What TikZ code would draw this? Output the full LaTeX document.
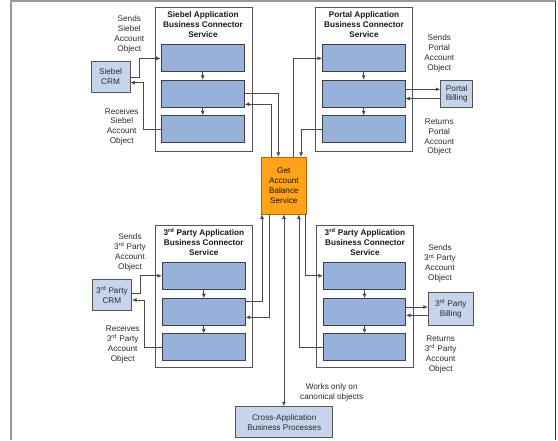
\documentclass[tikz,border=0pt]{standalone}
\usepackage{fontspec}
\setmainfont{Liberation Sans}
\usetikzlibrary{arrows.meta}
\definecolor{innerfill}{HTML}{97B1DA}
\definecolor{innerdraw}{HTML}{3F3F3F}
\definecolor{extfill}{HTML}{C7D5EC}
\definecolor{extdraw}{HTML}{555555}
\definecolor{contdraw}{HTML}{555555}
\definecolor{gabfill}{HTML}{FFA31A}
\definecolor{gabdraw}{HTML}{B06A00}
\definecolor{conncol}{HTML}{4A4A4A}
\definecolor{txtcol}{HTML}{2A2A2A}
\tikzset{
  container/.style={draw=contdraw, fill=white, line width=0.9pt, inner sep=0},
  innerbox/.style={draw=innerdraw, fill=innerfill, line width=0.7pt, minimum height=27pt, inner sep=0},
  extbox/.style={draw=extdraw, fill=extfill, line width=0.8pt, inner sep=0, align=center,
     font=\fontsize{8.2}{9.9}\selectfont, text=txtcol},
  gabbox/.style={draw=gabdraw, fill=gabfill, line width=0.8pt, inner sep=0, align=center,
     font=\fontsize{8.2}{9.9}\selectfont, text=black!85!brown},
  lbl/.style={inner sep=0, align=center, font=\fontsize{8.2}{9.9}\selectfont, text=txtcol},
  ttl/.style={inner sep=0, align=center, font=\fontsize{8.2}{9.9}\selectfont\bfseries, text=black!90},
  conn/.style={draw=conncol, line width=0.7pt, -{Latex[length=4.5pt,width=4pt]}},
  conn2/.style={draw=conncol, line width=0.7pt, {Latex[length=4.5pt,width=4pt]}-{Latex[length=4.5pt,width=4pt]}},
  framel/.style={draw=black!40, line width=2pt},
  framet/.style={draw=black!40, line width=1.3pt},
  framer/.style={draw=black!80, line width=1pt}
}
\newcommand{\rdsup}{3\textsuperscript{rd}}
\begin{document}
\begin{tikzpicture}[x=1pt,y=-1pt]
\useasboundingbox (0,0) rectangle (558,440);
% frame
\draw[framel] (10.5,440) -- (10.5,1);
\draw[framet] (10,1) -- (555.5,1);
\draw[framer] (555,0.5) -- (555,440);

% containers
\node[container, minimum width=97pt, minimum height=144pt] (sc) at (203.5,79) {};
\node[container, minimum width=96.6pt, minimum height=144pt] (pc) at (364,79) {};
\node[container, minimum width=97.7pt, minimum height=141.6pt] (tc) at (203.8,296.5) {};
\node[container, minimum width=96.6pt, minimum height=141.6pt] (rc) at (365,296.5) {};

% titles
\node[ttl] (st) at (203,24.8) {Siebel Application\\Business Connector\\Service};
\node[ttl] (pt) at (364,24.8) {Portal Application\\Business Connector\\Service};
\node[ttl] (tt) at (203.8,242.2) {\rdsup{} Party Application\\Business Connector\\Service};
\node[ttl] (rt) at (365,242.2) {\rdsup{} Party Application\\Business Connector\\Service};

% inner boxes
\node[innerbox, minimum width=83.5pt] (s1) at (202.75,58.3) {};
\node[innerbox, minimum width=83.5pt] (s2) at (202.75,93.6) {};
\node[innerbox, minimum width=83.5pt] (s3) at (202.75,129.2) {};
\node[innerbox, minimum width=82.7pt] (p1) at (363.7,58.3) {};
\node[innerbox, minimum width=82.7pt] (p2) at (363.7,93.6) {};
\node[innerbox, minimum width=82.7pt] (p3) at (363.7,129.2) {};
\node[innerbox, minimum width=83pt, minimum height=26.5pt] (t1) at (203.8,275.8) {};
\node[innerbox, minimum width=83pt, minimum height=26.5pt] (t2) at (203.8,311.8) {};
\node[innerbox, minimum width=83pt, minimum height=26.5pt] (t3) at (203.8,347) {};
\node[innerbox, minimum width=82.4pt, minimum height=26.5pt] (r1) at (364.5,275.8) {};
\node[innerbox, minimum width=82.4pt, minimum height=26.5pt] (r2) at (364.5,311.8) {};
\node[innerbox, minimum width=82.4pt, minimum height=26.5pt] (r3) at (364.5,347) {};

% external boxes
\node[extbox, minimum width=39pt, minimum height=31.7pt] (crm1) at (110.5,76.85) {Siebel\\CRM};
\node[extbox, minimum width=32pt, minimum height=27.7pt] (pb) at (456.7,93.85) {Portal\\Billing};
\node[extbox, minimum width=39.7pt, minimum height=30.6pt] (crm2) at (111.85,295) {\rdsup{} Party\\CRM};
\node[extbox, minimum width=45pt, minimum height=32.3pt] (tb) at (450.8,308.85) {\rdsup{} Party\\Billing};
\node[gabbox, minimum width=45.7pt, minimum height=56.7pt] (gab) at (283.85,185.65) {Get\\Account\\Balance\\Service};
\node[extbox, minimum width=97pt, minimum height=31pt] (ca) at (284.2,422.2) {Cross-Application\\Business Processes};

% labels
\node[lbl] (l1) at (129.3,34.6) {Sends\\Siebel\\Account\\Object};
\node[lbl] (l2) at (121.7,126.8) {Receives\\Siebel\\Account\\Object};
\node[lbl] (l3) at (439.3,53.7) {Sends\\Portal\\Account\\Object};
\node[lbl] (l4) at (439.3,137.1) {Returns\\Portal\\Account\\Object};
\node[lbl] (l5) at (130,252.4) {Sends\\\rdsup{} Party\\Account\\Object};
\node[lbl] (l6) at (122.7,344.5) {Receives\\\rdsup{} Party\\Account\\Object};
\node[lbl] (l7) at (440,263.7) {Sends\\\rdsup{} Party\\Account\\Object};
\node[lbl] (l8) at (440.7,354.4) {Returns\\\rdsup{} Party\\Account\\Object};
\node[lbl] (l9) at (331.7,392.7) {Works only on\\canonical objects};

% arrows inside containers
\draw[conn] (s1) -- (s2);
\draw[conn] (s2) -- (s3);
\draw[conn] (p1) -- (p2);
\draw[conn] (p2) -- (p3);
\draw[conn] (t1) -- (t2);
\draw[conn] (t2) -- (t3);
\draw[conn] (r1) -- (r2);
\draw[conn] (r2) -- (r3);

% Siebel side
\draw[conn] (crm1.east) -- ++(9,0) |- (s1.west);
\draw[conn] (s3.west) -- ++(-17.7,0) |- ([yshift=-5.8pt]crm1.east);
\draw[conn] (s2.east) -| ([xshift=-5.5pt]gab.north);
\draw[conn] ([xshift=-12.2pt]gab.north) |- ([yshift=-10.7pt]s2.east);

% Portal side
\draw[conn] ([xshift=9.5pt]gab.north) |- (p1.west);
\draw[conn] (p3.west) -| ([xshift=17.2pt]gab.north);
\draw[conn] ([yshift=4.3pt]p2.east) -- ([yshift=4.3pt]p2.east -| pb.west);
\draw[conn] ([yshift=-5pt]p2.east -| pb.west) -- ([yshift=-5pt]p2.east);

% 3rd party left
\draw[conn] ([yshift=1.5pt]crm2.east) -- ++(8.3,0) |- (t1.west);
\draw[conn] (t3.west) -- ++(-17.3,0) |- ([yshift=-5pt]crm2.east);
\draw[conn] ([yshift=10pt]t2.east) -| ([xshift=-21.8pt]gab.south);
\draw[conn] ([xshift=-14.5pt]gab.south) |- ([yshift=-5.5pt]t2.east);

% 3rd party right
\draw[conn] (r3.west) -| ([xshift=15pt]gab.south);
\draw[conn] ([xshift=21.8pt]gab.south) |- (r1.west);
\draw[conn] ([yshift=4.8pt]r2.east) -- ([yshift=4.8pt]r2.east -| tb.west);
\draw[conn] ([yshift=-3.5pt]r2.east -| tb.west) -- ([yshift=-3.5pt]r2.east);

% cross application
\draw[conn2] (gab.south) -- (gab.south |- ca.north);
\end{tikzpicture}
\end{document}
